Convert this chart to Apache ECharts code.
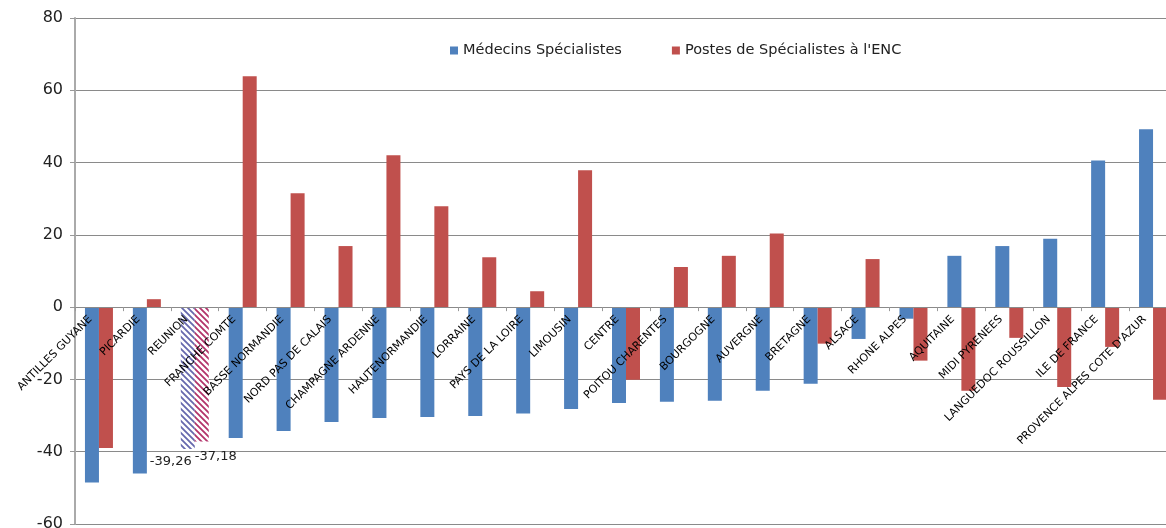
<!DOCTYPE html>
<html>
<head>
<meta charset="utf-8">
<script src="https://cdn.jsdelivr.net/npm/echarts@6/dist/echarts.min.js"></script>
<style>
  html, body { margin: 0; padding: 0; background: #fff; }
  #chart { width: 1166px; height: 528px; }
</style>
</head>
<body>
<div id="chart"></div>
<script>
const regions = ['ANTILLES GUYANE', 'PICARDIE', 'REUNION', 'FRANCHE COMTE', 'BASSE NORMANDIE',
  'NORD PAS DE CALAIS', 'CHAMPAGNE ARDENNE', 'HAUTENORMANDIE', 'LORRAINE', 'PAYS DE LA LOIRE',
  'LIMOUSIN', 'CENTRE', 'POITOU CHARENTES', 'BOURGOGNE', 'AUVERGNE', 'BRETAGNE', 'ALSACE',
  'RHONE ALPES', 'AQUITAINE', 'MIDI PYRENEES', 'LANGUEDOC ROUSSILLON', 'ILE DE FRANCE',
  'PROVENCE ALPES COTE D\'AZUR']
const medecins = [-48.5, -46.0, -39.26, -36.2, -34.3, -31.8, -30.7, -30.4, -30.1, -29.4, -28.2, -26.5,
  -26.2, -25.9, -23.1, -21.2, -8.8, -3.2, 14.2, 16.9, 18.9, 40.6, 49.2]
const postes = [-39.0, 2.2, -37.18, 63.9, 31.5, 16.9, 42.0, 27.9, 13.8, 4.4, 37.9, -20.1,
  11.1, 14.2, 20.4, -10.1, 13.3, -14.8, -23.1, -8.5, -22.1, -11.0, -25.6]
const seriesNames = ['Médecins Spécialistes', 'Postes de Spécialistes à l\'ENC']
const highlighted = 'REUNION'

const font = 'DejaVu Sans'
const yMin = -60
const yMax = 80
const gridTop = 18
const gridHeight = 506

// hachures pour la barre mise en évidence
function hatch (color) {
  const c = document.createElement('canvas')
  c.width = 6
  c.height = 6
  const g = c.getContext('2d')
  g.fillStyle = '#fff'
  g.fillRect(0, 0, 6, 6)
  g.strokeStyle = color
  g.lineWidth = 1.8
  g.beginPath()
  g.moveTo(-1, -1); g.lineTo(7, 7)
  g.moveTo(-1, 5); g.lineTo(1, 7)
  g.moveTo(5, -1); g.lineTo(7, 1)
  g.stroke()
  return c
}

function buildData (values, hatchColor, offset) {
  return values.map((v, i) => {
    if (regions[i] !== highlighted) return v
    return {
      value: v,
      itemStyle: { color: { image: hatch(hatchColor), repeat: 'repeat' } },
      label: {
        show: true,
        position: 'bottom',
        offset: offset,
        color: '#222',
        fontFamily: font,
        fontSize: 13,
        formatter: (p) => String(p.value).replace('.', ',')
      }
    }
  })
}

// les libellés restent en bas du graphique en v6 : on les remonte jusqu'à la ligne du zéro
const zeroFromBottom = gridHeight * (0 - yMin) / (yMax - yMin)

const chart = echarts.init(document.getElementById('chart'), null, { renderer: 'canvas' })

const option = {
  animation: false,
  color: ['#4F81BD', '#C0504D'],
  textStyle: { fontFamily: font },
  grid: {
    left: 75,
    top: gridTop,
    width: 1102,
    height: gridHeight,
    containLabel: false,
    outerBoundsMode: 'none'
  },
  legend: {
    left: 445,
    top: 38,
    icon: 'rect',
    itemWidth: 8,
    itemHeight: 8,
    itemGap: 50,
    textStyle: { color: '#222', fontSize: 14.5, fontFamily: font },
    data: seriesNames
  },
  xAxis: {
    type: 'category',
    data: regions,
    z: 5,
    axisLine: { onZero: true, lineStyle: { color: '#8a8a8a', width: 1 } },
    axisTick: { show: true, interval: 0, length: 4, lineStyle: { color: '#999' } },
    axisLabel: {
      interval: 0,
      rotate: 45,
      margin: 2 - zeroFromBottom,
      padding: [0, 12, 0, 0],
      color: '#000',
      fontSize: 11,
      fontFamily: font
    }
  },
  yAxis: {
    type: 'value',
    min: yMin,
    max: yMax,
    interval: 20,
    axisLine: { show: true, lineStyle: { color: '#aaa', width: 2 } },
    axisTick: { show: true, length: 5, lineStyle: { color: '#999' } },
    axisLabel: { color: '#222', fontSize: 16, margin: 12, fontFamily: font },
    splitLine: { show: true, lineStyle: { color: '#8a8a8a', width: 1 } }
  },
  series: [
    {
      name: seriesNames[0],
      type: 'bar',
      barWidth: 14,
      barGap: '0%',
      data: buildData(medecins, '#6668ad', [-17, 1])
    },
    {
      name: seriesNames[1],
      type: 'bar',
      barWidth: 14,
      barGap: '0%',
      data: buildData(postes, '#b3336a', [14, 4])
    }
  ]
}

chart.setOption(option)
</script>
</body>
</html>
